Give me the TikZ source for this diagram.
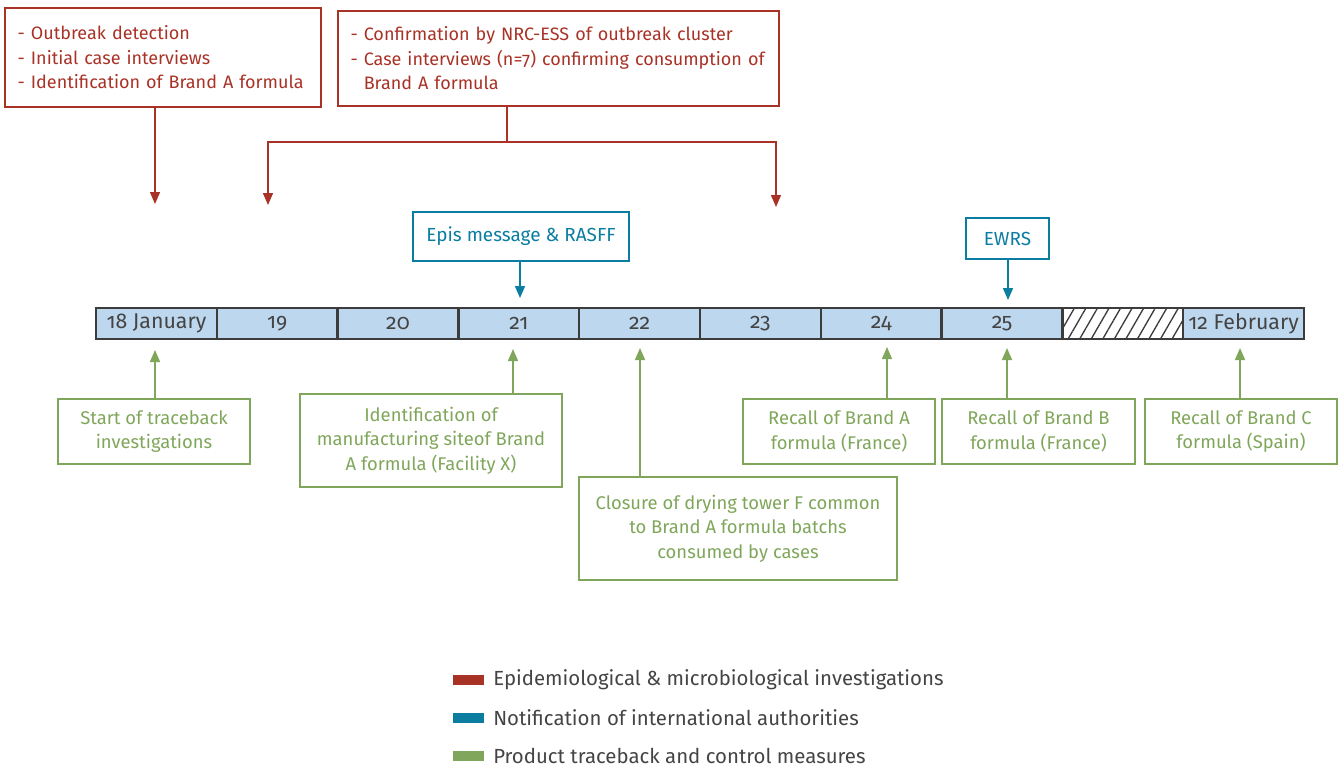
\documentclass[tikz,border=0pt]{standalone}
\usepackage{fontspec}
\setmainfont{Fira Sans}[Numbers=OldStyle]
\usetikzlibrary{arrows.meta,patterns.meta}
\definecolor{ered}{RGB}{169,50,38}
\definecolor{eblue}{RGB}{10,125,160}
\definecolor{egreen}{RGB}{127,166,90}
\definecolor{ecell}{RGB}{189,215,238}
\definecolor{eborder}{RGB}{60,60,60}
\definecolor{etext}{RGB}{68,68,68}
\tikzset{
  redbox/.style={draw=ered,line width=1.1pt,text=ered,font=\fontsize{13.5}{18.4}\selectfont,align=left,inner xsep=9.3pt},
  bluebox/.style={draw=eblue,line width=1.1pt,text=eblue,font=\fontsize{14.2}{18.4}\selectfont,align=center},
  greenbox/.style={draw=egreen,line width=1.1pt,text=egreen,font=\fontsize{13.8}{18.4}\selectfont,align=center},
  cell/.style={draw=eborder,line width=1.8pt,fill=ecell,text=etext,minimum width=90.6pt,minimum height=23.25pt,inner sep=0pt,font=\fontsize{16}{18}\selectfont},
  redarrow/.style={draw=ered,line width=1.1pt,-{Triangle[width=7.5pt,length=9pt]}},
  bluearrow/.style={draw=eblue,line width=1.1pt,-{Triangle[width=7.5pt,length=9pt]}},
  greenarrow/.style={draw=egreen,line width=1.1pt,-{Triangle[width=7.5pt,length=9pt]}},
  swatch/.style={minimum width=23.25pt,minimum height=7.5pt,inner sep=0pt},
  legtext/.style={anchor=west,text=etext,inner sep=0pt,font=\fontsize{15.3}{17}\selectfont},
}
\begin{document}
\begin{tikzpicture}[x=0.75pt,y=-0.75pt]
\useasboundingbox (0,0) rectangle (1343,769);
% red boxes
\node[redbox,minimum width=237pt,minimum height=74.25pt,text width=218pt] (r1) at (163,57.5)
  {- Outbreak detection\\- Initial case interviews\\- Identification of Brand A formula\\[-5pt]};
\node[redbox,minimum width=330.75pt,minimum height=71.25pt,text width=312pt] (r2) at (558.5,58.5)
  {- Confirmation by NRC-ESS of outbreak cluster\\- Case interviews (n=7) confirming consumption of\\\phantom{- }Brand A formula\\[-5pt]};
\coordinate (ra1) at (155,204);
\coordinate (rj) at (507,142);
\coordinate (ra2) at (268,205);
\coordinate (ra3) at (776,207);
\draw[redarrow] (r1.south -| ra1) -- (ra1);
\draw[draw=ered,line width=1.1pt] (r2.south -| rj) -- (rj);
\draw[redarrow] (rj) -| (ra2);
\draw[redarrow] (rj) -| (ra3);
% blue boxes
\node[bluebox,minimum width=162pt,minimum height=36.75pt] (b1) at (521,236.5) {Epis message \& RASFF};
\node[bluebox,minimum width=62.25pt,minimum height=30.75pt] (b2) at (1007.5,238.5) {EWRS};
\coordinate (ba1) at (520,298);
\coordinate (ba2) at (1008,300);
\draw[bluearrow] (b1.south -| ba1) -- (ba1);
\draw[bluearrow] (b2.south -| ba2) -- (ba2);
% timeline
\node[cell] (c1) at (156.4,323.5) {18 January};
\node[cell] (c2) at (277.2,323.5) {19};
\node[cell] (c3) at (398,323.5) {20};
\node[cell] (c4) at (518.8,323.5) {21};
\node[cell] (c5) at (639.6,323.5) {22};
\node[cell] (c6) at (760.4,323.5) {23};
\node[cell] (c7) at (881.2,323.5) {24};
\node[cell] (c8) at (1002,323.5) {25};
\node[cell,fill=white,pattern={Lines[angle=60,distance=7.5pt,line width=1pt]},pattern color=eborder] (c9) at (1122.8,323.5) {};
\node[cell] (c10) at (1243.6,323.5) {12 February};
% green boxes
\node[greenbox,minimum width=144pt,minimum height=48.75pt] (g1) at (154,431.5) {Start of traceback\\investigations};
\node[greenbox,minimum width=196.5pt,minimum height=69.75pt] (g2) at (431,440.5) {Identification of\\manufacturing siteof Brand\\A formula (Facility X)};
\node[greenbox,minimum width=238.5pt,minimum height=77.25pt] (g3) at (738,528.5) {Closure of drying tower F common\\to Brand A formula batchs\\consumed by cases};
\node[greenbox,minimum width=144pt,minimum height=48.75pt] (g4) at (839,431.5) {Recall of Brand A\\formula (France)};
\node[greenbox,minimum width=144.75pt,minimum height=48.75pt] (g5) at (1038.5,431.5) {Recall of Brand B\\formula (France)};
\node[greenbox,minimum width=144pt,minimum height=48.75pt] (g6) at (1241,431.5) {Recall of Brand C\\formula (Spain)};
\coordinate (ga1) at (155,350);
\coordinate (ga2) at (513,349);
\coordinate (ga3) at (640,348);
\coordinate (ga4) at (887,347);
\coordinate (ga5) at (1007,348);
\coordinate (ga6) at (1240,348);
\draw[greenarrow] (g1.north -| ga1) -- (ga1);
\draw[greenarrow] (g2.north -| ga2) -- (ga2);
\draw[greenarrow] (g3.north -| ga3) -- (ga3);
\draw[greenarrow] (g4.north -| ga4) -- (ga4);
\draw[greenarrow] (g5.north -| ga5) -- (ga5);
\draw[greenarrow] (g6.north -| ga6) -- (ga6);
% legend
\node[swatch,fill=ered] (l1) at (468.5,680) {};
\node[swatch,fill=eblue] (l2) at (468.5,718) {};
\node[swatch,fill=egreen] (l3) at (468.5,756) {};
\node[legtext] (t1) at (493,680) {Epidemiological \& microbiological investigations};
\node[legtext] (t2) at (493,718) {Notification of international authorities};
\node[legtext] (t3) at (493,756) {Product traceback and control measures};
\end{tikzpicture}
\end{document}
